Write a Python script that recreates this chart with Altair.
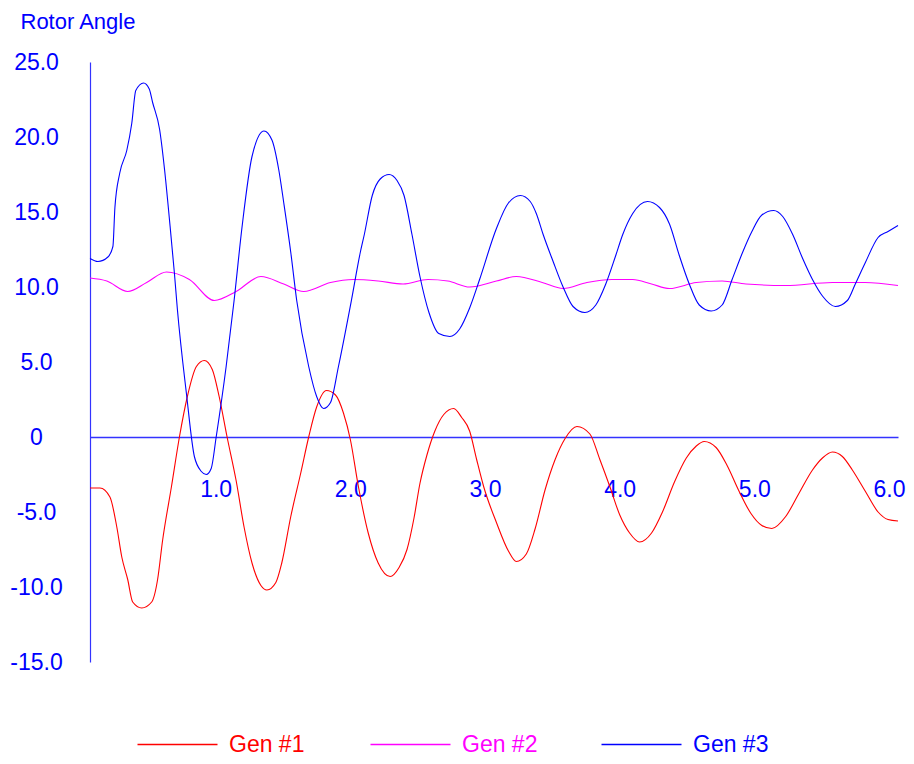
import altair as alt
import pandas as pd

series_names = ["Gen #1", "Gen #2", "Gen #3"]
series_colors = ["#ff0000", "#ff00ff", "#0000ff"]

gen1_t = [0, 0.074, 0.148, 0.199, 0.236, 0.280, 0.317, 0.384, 0.458, 0.502, 0.539, 0.605, 0.664,
          0.723, 0.790, 0.849, 0.908, 0.959, 1.018, 1.085, 1.144, 1.203, 1.269, 1.314, 1.380, 1.424,
          1.491, 1.565, 1.624, 1.683, 1.756, 1.823, 1.882, 1.934, 1.993, 2.066, 2.140, 2.229, 2.295,
          2.354, 2.406, 2.450, 2.502, 2.561, 2.627, 2.701, 2.760, 2.819, 2.871, 2.923, 3.018, 3.107,
          3.166, 3.240, 3.306, 3.380, 3.454, 3.528, 3.616, 3.712, 3.786, 3.860, 3.934, 4.007, 4.081,
          4.170, 4.251, 4.340, 4.428, 4.502, 4.561, 4.649, 4.731, 4.819, 4.908, 4.989, 5.063, 5.166,
          5.262, 5.365, 5.439, 5.513, 5.587, 5.661, 5.756, 5.852, 5.926, 6.0]
gen1_v = [-3.4, -3.4, -4.0, -6.0, -8.0, -9.5, -11.0, -11.4, -11.0, -9.5, -6.9, -3.3, 0.0,
          2.7, 4.7, 5.1, 4.5, 2.7, 0.0, -2.9, -6.0, -8.4, -9.9, -10.2, -9.7, -8.4,
          -5.3, -2.4, 0.0, 2.0, 3.1, 2.8, 1.6, -0.2, -3.3, -6.4, -8.4, -9.3, -8.7,
          -7.5, -5.4, -3.1, -1.2, 0.4, 1.5, 1.9, 1.3, 0.4, -1.5, -3.3, -5.7, -7.6,
          -8.3, -7.8, -6.1, -3.5, -1.5, -0.1, 0.7, 0.2, -1.5, -3.3, -5.2, -6.4, -7.0,
          -6.4, -5.0, -3.0, -1.4, -0.6, -0.3, -0.7, -1.9, -3.6, -5.1, -5.9, -6.1, -5.3,
          -3.8, -2.2, -1.4, -1.0, -1.3, -2.2, -3.6, -5.0, -5.5, -5.6]

gen2_t = [0, 0.125, 0.280, 0.421, 0.568, 0.738, 0.923, 1.085, 1.269, 1.439, 1.587, 1.786, 1.956,
          2.140, 2.325, 2.509, 2.657, 2.819, 3.018, 3.166, 3.358, 3.513, 3.690, 3.875, 4.030, 4.170,
          4.303, 4.502, 4.694, 4.871, 5.166, 5.513, 5.756, 6.0]
gen2_v = [10.6, 10.4, 9.7, 10.3, 11.0, 10.5, 9.1, 9.7, 10.7, 10.2, 9.7, 10.3, 10.5,
          10.4, 10.2, 10.5, 10.4, 10.0, 10.4, 10.7, 10.3, 9.9, 10.3, 10.5, 10.5, 10.2,
          9.9, 10.3, 10.4, 10.2, 10.1, 10.3, 10.3, 10.1]

gen3_t = [0, 0.059, 0.133, 0.170, 0.185, 0.221, 0.273, 0.310, 0.340, 0.398, 0.440, 0.465,
          0.517, 0.554, 0.590, 0.627, 0.649, 0.716, 0.775, 0.827, 0.863, 0.900, 0.937, 1.011, 1.070,
          1.129, 1.203, 1.292, 1.351, 1.402, 1.439, 1.491, 1.535, 1.624, 1.683, 1.734, 1.786, 1.845,
          1.941, 2.007, 2.037, 2.096, 2.155, 2.221, 2.280, 2.332, 2.391, 2.450, 2.517, 2.590, 2.672,
          2.745, 2.819, 2.893, 3.018, 3.107, 3.196, 3.269, 3.314, 3.365, 3.439, 3.513, 3.587, 3.675,
          3.756, 3.830, 3.904, 3.956, 4.030, 4.140, 4.229, 4.303, 4.376, 4.450, 4.524, 4.613, 4.694,
          4.768, 4.841, 4.915, 4.989, 5.077, 5.144, 5.218, 5.292, 5.365, 5.439, 5.535, 5.624, 5.683,
          5.756, 5.852, 5.926, 6.0]
gen3_v = [11.9, 11.7, 12.0, 12.7, 15.3, 17.6, 19.1, 20.9, 23.1, 23.6, 23.2, 22.3,
          20.5, 17.8, 14.5, 10.9, 8.5, 2.9, -1.3, -2.3, -2.5, -2.1, 0.0, 4.7, 9.1,
          14.0, 18.7, 20.4, 19.8, 17.8, 15.6, 12.3, 9.1, 4.7, 2.7, 1.9, 2.3, 4.7,
          9.1, 12.3, 13.5, 16.1, 17.2, 17.5, 17.1, 16.1, 13.5, 10.7, 8.3, 6.9, 6.7,
          7.2, 8.6, 10.5, 13.9, 15.6, 16.1, 15.7, 14.9, 13.5, 11.7, 10.0, 8.7, 8.3,
          8.8, 10.2, 12.1, 13.5, 14.9, 15.7, 15.3, 14.2, 12.1, 10.2, 8.8, 8.4, 8.8,
          10.5, 12.2, 13.7, 14.8, 15.1, 14.7, 13.5, 11.9, 10.5, 9.4, 8.7, 9.1, 10.2,
          11.6, 13.3, 13.7, 14.1]

x_ticks = [1, 2, 3, 4, 5, 6]
y_ticks = [-15, -10, -5, 0, 5, 10, 15, 20, 25]

FONT = "Liberation Sans, Arial, sans-serif"
BLUE = "#0000ff"

x_axis = alt.Axis(values=x_ticks, format=".1f", title=None, orient="bottom",
                  offset=-225, ticks=False, tickSize=0, grid=False,
                  domainColor="#3333ff", domainWidth=1.5,
                  labelColor=BLUE, labelFont=FONT, labelFontSize=23,
                  labelPadding=41, labelOffset=-9, labelAlign="center",
                  labelBaseline="top", labelOverlap=False)
y_axis = alt.Axis(values=y_ticks, ticks=False, tickSize=0, grid=False,
                  labelExpr="datum.value == 0 ? '0' : (datum.value < 0 ? '-' : '') + format(abs(datum.value), '.1f')",
                  domainColor="#3333ff", domainWidth=1.2,
                  labelColor=BLUE, labelFont=FONT, labelFontSize=23,
                  labelPadding=54, labelAlign="center", labelBaseline="middle",
                  labelOverlap=False,
                  title="Rotor Angle", titleAngle=0, titleX=-70, titleY=-34,
                  titleAlign="left", titleBaseline="alphabetic",
                  titleColor=BLUE, titleFont=FONT, titleFontSize=22,
                  titleFontWeight="normal")
x_scale = alt.Scale(domain=[0, 6], nice=False, zero=False)
y_scale = alt.Scale(domain=[-15, 25], nice=False, zero=False)

legend_x = [76, 309, 540]

layers = []
for name, color, ts, vs, lx in zip(series_names, series_colors,
                                   [gen1_t, gen2_t, gen3_t], [gen1_v, gen2_v, gen3_v], legend_x):
    d = pd.DataFrame({"t": ts, "v": vs, "series": name})
    layer = alt.Chart(d).mark_line(strokeWidth=1.1, interpolate="monotone").encode(
        x=alt.X("t:Q", scale=x_scale, axis=x_axis),
        y=alt.Y("v:Q", scale=y_scale, axis=y_axis),
        color=alt.Color("series:N",
                        scale=alt.Scale(domain=[name], range=[color]),
                        legend=alt.Legend(title=None, orient="none", direction="horizontal",
                                          legendX=lx, legendY=671, symbolType="M-4,0H4",
                                          symbolSize=400, symbolStrokeWidth=1.5,
                                          labelFont=FONT, labelFontSize=23, labelColor=color,
                                          labelOffset=40, padding=0)),
    )
    layers.append(layer)

chart = alt.layer(*layers).resolve_scale(color="independent").resolve_legend(
    color="independent"
).properties(
    width=808, height=600,
    autosize=alt.AutoSizeParams(type="none"),
    padding={"left": 82, "top": 54, "right": 8, "bottom": 94},
).configure_view(stroke=None)

chart.save("out.html", embed_options={"renderer": "svg", "actions": False})
